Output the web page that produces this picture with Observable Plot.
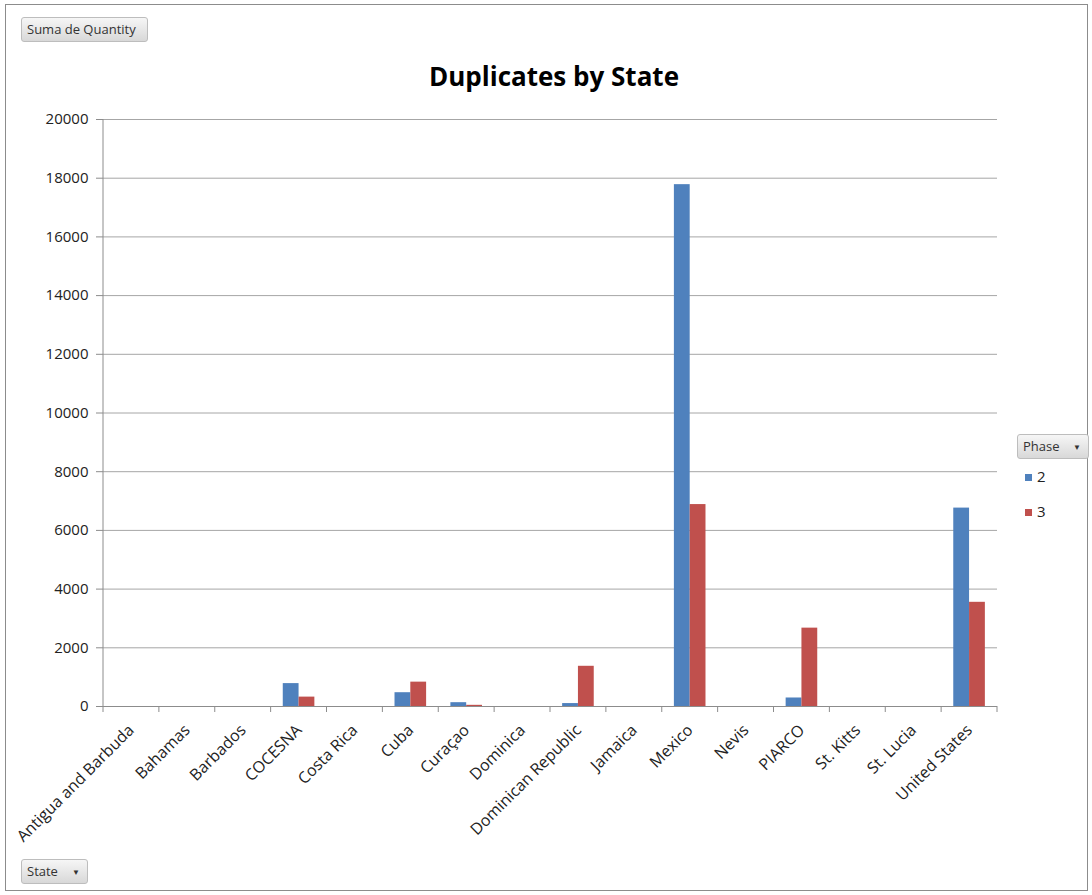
<!DOCTYPE html>
<html><head><meta charset="utf-8">
<script src="https://cdn.jsdelivr.net/npm/d3@7"></script>
<script src="https://cdn.jsdelivr.net/npm/@observablehq/plot@0.6"></script>
<style>
body{margin:0;background:#fff;font-family:"Open Sans",sans-serif;}
#wrap{position:relative;width:1092px;height:895px;overflow:hidden;background:#fff;}
#wrap svg{position:absolute;left:0;top:0;}
#border{position:absolute;left:5px;top:4px;width:1083px;height:887px;border:1px solid #8c8c8c;box-sizing:border-box;pointer-events:none;}
.btn{position:absolute;height:25px;border:1px solid #bdbdbd;border-radius:3px;background:linear-gradient(#f6f6f6,#d8d8d8);font-size:13px;line-height:23px;padding:0 5px;color:#333;box-sizing:border-box;white-space:nowrap;}
.arr{position:absolute;right:7px;top:0;font-size:8px;color:#333;}
#title{position:absolute;top:58px;left:8px;width:1092px;text-align:center;font-weight:bold;font-size:26px;color:#000;}
.leg{position:absolute;font-size:15px;color:#222;}
.sw{position:absolute;width:7px;height:7px;}
</style></head>
<body>
<div id="wrap"></div>
<script>
const states = ["Antigua and Barbuda","Bahamas","Barbados","COCESNA","Costa Rica","Cuba","Curaçao","Dominica","Dominican Republic","Jamaica","Mexico","Nevis","PIARCO","St. Kitts","St. Lucia","United States"];
const phase2 = [0,0,0,780,0,470,130,0,100,0,17780,0,290,0,0,6760];
const phase3 = [0,0,0,320,0,830,40,0,1370,0,6880,0,2670,0,0,3550];
const phases = ["2","3"];
const colors = ["#4F81BD","#C0504D"];
const yTicks = d3.range(0, 20001, 2000);

const data = [];
states.forEach((s, i) => {
  data.push({state: s, phase: "2", value: phase2[i]});
  data.push({state: s, phase: "3", value: phase3[i]});
});

const W = 1092, H = 895, mL = 103, mR = 95, mT = 119, mB = 189;
const bw = (W - mL - mR) / states.length;
const barW = 15.8;

const chart = Plot.plot({
  width: W, height: H,
  marginLeft: mL, marginRight: mR, marginTop: mT, marginBottom: mB,
  style: {fontFamily: "Open Sans", fontSize: "15px", background: "transparent", color: "#222"},
  x: {type: "band", domain: states, padding: 0, round: false, label: null},
  y: {domain: [0, 20000], label: null},
  marks: [
    Plot.gridY(yTicks, {stroke: "#a6a6a6", strokeOpacity: 1, strokeWidth: 1}),
    Plot.barY(data.filter(d => d.phase === "2" && d.value > 0), {x: "state", y: "value", fill: colors[0], insetLeft: bw/2 - barW, insetRight: bw/2}),
    Plot.barY(data.filter(d => d.phase === "3" && d.value > 0), {x: "state", y: "value", fill: colors[1], insetLeft: bw/2, insetRight: bw/2 - barW}),
    Plot.ruleY([0], {stroke: "#8c8c8c"}),
    Plot.axisY({ticks: yTicks, tickSize: 7, tickPadding: 8, tickFormat: d => String(d), stroke: "#8c8c8c", fill: "#222", fontSize: 15, label: null}),
    Plot.axisX({tickSize: 0, tickPadding: 21, tickRotate: -45, fill: "#222", fontSize: 16, label: null})
  ]
});

const wrap = document.getElementById("wrap");
wrap.appendChild(chart);

// axis line and category boundary ticks from the plot's own scales
const xs = chart.scale("x"), ys = chart.scale("y");
const y0 = ys.apply(0), yTop = ys.apply(20000);
const svg = d3.select(chart);
const g = svg.append("g").attr("stroke", "#8c8c8c").attr("stroke-width", 1);
g.append("line").attr("x1", xs.apply(states[0])).attr("x2", xs.apply(states[0])).attr("y1", yTop).attr("y2", y0);
const bounds = states.map(s => xs.apply(s)).concat([xs.apply(states[states.length-1]) + xs.bandwidth]);
bounds.forEach(bx => g.append("line").attr("x1", bx).attr("x2", bx).attr("y1", y0).attr("y2", y0 + 6));

function el(html) { const d = document.createElement("div"); d.innerHTML = html; const n = d.firstElementChild; wrap.appendChild(n); return n; }
el('<div id="border"></div>');
el('<div id="title">Duplicates by State</div>');
el('<div class="btn" style="left:21px;top:17px;width:127px;">Suma de Quantity</div>');
el('<div class="btn" style="left:21px;top:859px;width:67px;">State<span class="arr">▼</span></div>');
el('<div class="btn" style="left:1017px;top:434px;width:72px;">Phase<span class="arr">▼</span></div>');
phases.forEach((p, i) => {
  el(`<div class="sw" style="left:1025px;top:${474 + i*35}px;background:${colors[i]}"></div>`);
  el(`<div class="leg" style="left:1037px;top:${466 + i*35}px;">${p}</div>`);
});
</script>
</body></html>
